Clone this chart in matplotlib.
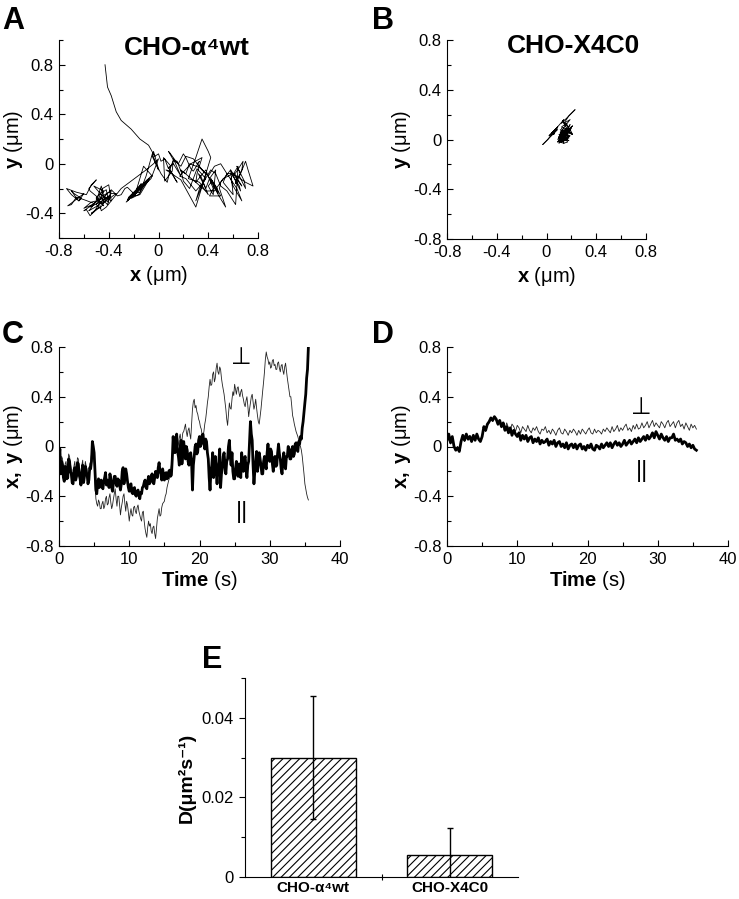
import numpy as np
import matplotlib
matplotlib.use("Agg")
import matplotlib.pyplot as plt
from matplotlib.ticker import MultipleLocator, FuncFormatter

plt.rcParams['font.family'] = ['Liberation Sans', 'DejaVu Sans']
plt.rcParams['axes.unicode_minus'] = False
plt.rcParams['mathtext.fontset'] = 'custom'
plt.rcParams['mathtext.rm'] = 'Liberation Sans'
plt.rcParams['mathtext.bf'] = 'Liberation Sans:bold'
plt.rcParams['mathtext.it'] = 'Liberation Sans:italic'
plt.rcParams['hatch.linewidth'] = 0.8

# sampling intervals of the traces (s)
dt_wt = 0.125
dt_x4 = 0.25

# CHO-a4wt traces (um); parallel = thick, perpendicular = thin
wt_par = [
    -0.10, -0.02, -0.22, -0.12, -0.15, -0.25, -0.28, -0.16,
    -0.18, -0.26, -0.25, -0.10, -0.12, -0.20, -0.22, -0.29,
    -0.30, -0.19, -0.17, -0.27, -0.24, -0.13, -0.14, -0.23,
    -0.26, -0.31, -0.20, -0.15, -0.29, -0.24, -0.16, -0.21,
    -0.22, -0.30, -0.27, -0.17, -0.18, -0.12, 0.04, 0.00,
    -0.05, -0.20, -0.35, -0.38, -0.30, -0.26, -0.33, -0.29,
    -0.27, -0.32, -0.34, -0.28, -0.25, -0.21, -0.31, -0.27,
    -0.28, -0.33, -0.22, -0.26, -0.33, -0.36, -0.29, -0.24,
    -0.24, -0.30, -0.32, -0.26, -0.27, -0.31, -0.35, -0.30,
    -0.20, -0.17, -0.30, -0.25, -0.18, -0.22, -0.28, -0.33,
    -0.36, -0.31, -0.30, -0.37, -0.38, -0.34, -0.33, -0.39,
    -0.40, -0.36, -0.35, -0.39, -0.42, -0.37, -0.38, -0.33,
    -0.32, -0.29, -0.27, -0.33, -0.34, -0.28, -0.24, -0.30,
    -0.28, -0.24, -0.22, -0.29, -0.30, -0.25, -0.20, -0.23,
    -0.25, -0.17, -0.13, -0.20, -0.22, -0.27, -0.18, -0.22,
    -0.27, -0.23, -0.21, -0.26, -0.25, -0.20, -0.19, -0.24,
    -0.23, -0.10, 0.08, -0.02, -0.05, 0.06, 0.10, -0.04,
    -0.08, -0.15, -0.02, 0.05, -0.14, -0.06, 0.04, -0.03,
    -0.10, 0.00, -0.03, -0.12, -0.15, -0.06, -0.05, -0.13,
    -0.35, -0.15, -0.08, 0.00, 0.02, -0.06, -0.04, 0.05,
    0.08, 0.00, 0.02, 0.09, 0.10, 0.03, -0.02, 0.06,
    0.04, -0.05, -0.10, -0.25, -0.35, -0.20, -0.15, -0.05,
    -0.25, -0.15, -0.08, -0.20, -0.30, -0.18, -0.12, -0.02,
    -0.33, -0.22, -0.18, -0.08, -0.05, -0.15, -0.22, -0.12,
    -0.10, 0.00, 0.05, -0.08, -0.15, -0.05, -0.20, -0.26,
    -0.26, -0.18, -0.12, -0.20, -0.24, -0.14, -0.18, -0.25,
    -0.05, -0.12, -0.20, -0.10, -0.08, -0.18, -0.25, -0.15,
    -0.12, 0.05, 0.20, 0.10, 0.05, -0.15, -0.30, -0.20,
    -0.12, -0.04, -0.20, -0.14, -0.05, -0.10, -0.15, -0.22,
    -0.22, -0.12, -0.08, -0.15, -0.18, -0.05, 0.02, -0.08,
    -0.12, -0.02, -0.04, -0.14, -0.20, -0.10, -0.08, -0.16,
    -0.15, -0.05, 0.02, -0.06, -0.10, -0.18, -0.22, -0.12,
    -0.05, -0.14, -0.18, -0.08, -0.08, 0.00, -0.02, -0.10,
    -0.10, -0.03, 0.00, -0.08, -0.06, 0.02, 0.03, -0.02,
    -0.04, 0.04, 0.02, 0.08, 0.06, 0.15, 0.20, 0.28,
    0.35, 0.42, 0.55, 0.62, 0.80]
wt_perp = [
    -0.05, -0.12, -0.18, -0.08, -0.10, -0.16, -0.22, -0.14,
    -0.12, -0.20, -0.15, -0.06, -0.08, -0.14, -0.18, -0.24,
    -0.25, -0.16, -0.12, -0.21, -0.20, -0.09, -0.10, -0.18,
    -0.22, -0.26, -0.15, -0.11, -0.25, -0.19, -0.12, -0.16,
    -0.18, -0.25, -0.24, -0.14, -0.12, -0.06, 0.00, -0.04,
    -0.10, -0.30, -0.42, -0.46, -0.48, -0.43, -0.45, -0.50,
    -0.50, -0.46, -0.44, -0.50, -0.48, -0.42, -0.40, -0.47,
    -0.46, -0.41, -0.38, -0.45, -0.50, -0.47, -0.42, -0.38,
    -0.34, -0.42, -0.48, -0.40, -0.40, -0.47, -0.55, -0.49,
    -0.45, -0.40, -0.38, -0.46, -0.52, -0.44, -0.47, -0.53,
    -0.60, -0.54, -0.50, -0.55, -0.56, -0.49, -0.48, -0.52,
    -0.54, -0.49, -0.47, -0.52, -0.55, -0.58, -0.60, -0.53,
    -0.52, -0.60, -0.66, -0.70, -0.73, -0.65, -0.60, -0.64,
    -0.62, -0.68, -0.70, -0.65, -0.64, -0.70, -0.74, -0.66,
    -0.58, -0.54, -0.50, -0.56, -0.55, -0.49, -0.46, -0.45,
    -0.44, -0.40, -0.38, -0.33, -0.30, -0.27, -0.25, -0.20,
    -0.15, -0.10, -0.05, -0.01, 0.00, -0.05, -0.04, 0.00,
    0.02, 0.07, 0.10, 0.04, 0.05, 0.11, 0.12, 0.15,
    0.18, 0.12, 0.08, 0.13, 0.15, 0.10, 0.06, 0.18,
    0.30, 0.36, 0.38, 0.31, 0.33, 0.28, 0.26, 0.22,
    0.20, 0.16, 0.14, 0.09, 0.08, 0.12, 0.18, 0.22,
    0.28, 0.35, 0.40, 0.48, 0.54, 0.49, 0.50, 0.58,
    0.60, 0.52, 0.55, 0.63, 0.67, 0.60, 0.58, 0.64,
    0.62, 0.55, 0.50, 0.46, 0.42, 0.36, 0.30, 0.22,
    0.17, 0.26, 0.35, 0.31, 0.30, 0.38, 0.44, 0.41,
    0.50, 0.46, 0.42, 0.47, 0.48, 0.43, 0.40, 0.44,
    0.46, 0.41, 0.38, 0.34, 0.32, 0.37, 0.40, 0.33,
    0.24, 0.30, 0.35, 0.40, 0.42, 0.36, 0.30, 0.33,
    0.38, 0.31, 0.25, 0.20, 0.18, 0.24, 0.30, 0.38,
    0.45, 0.52, 0.60, 0.70, 0.76, 0.72, 0.70, 0.66,
    0.68, 0.63, 0.64, 0.69, 0.70, 0.65, 0.66, 0.62,
    0.62, 0.67, 0.68, 0.63, 0.60, 0.65, 0.66, 0.61,
    0.58, 0.64, 0.67, 0.61, 0.55, 0.50, 0.45, 0.40,
    0.40, 0.33, 0.25, 0.22, 0.18, 0.15, 0.12, 0.10,
    0.08, 0.05, 0.02, 0.00, -0.03, -0.08, -0.15, -0.22,
    -0.30, -0.34, -0.38, -0.41, -0.43]

# CHO-X4C0 traces (um)
x4_par = [
    0.05, 0.10, 0.03, 0.08, 0.00, -0.03, -0.01, -0.04, 0.04, 0.09, 0.05, 0.10,
    0.06, 0.08, 0.04, 0.09, 0.05, 0.10, 0.06, 0.04, 0.08, 0.16, 0.13, 0.18,
    0.20, 0.23, 0.21, 0.24, 0.22, 0.18, 0.21, 0.16, 0.19, 0.13, 0.16, 0.11,
    0.15, 0.09, 0.13, 0.10, 0.08, 0.11, 0.05, 0.09, 0.06, 0.09, 0.04, 0.07,
    0.08, 0.03, 0.06, 0.04, 0.07, 0.02, 0.05, 0.03, 0.04, 0.06, 0.01, 0.04,
    0.02, 0.05, 0.00, 0.03, 0.04, 0.00, 0.02, -0.01, 0.03, -0.02, 0.01, 0.02,
    -0.01, 0.02, -0.02, 0.01, 0.02, -0.02, 0.00, -0.03, 0.01, -0.01, 0.02, -0.02,
    -0.03, 0.01, 0.00, -0.02, 0.02, -0.01, 0.01, 0.03, 0.00, 0.03, -0.01, 0.02,
    0.04, 0.01, 0.03, 0.00, 0.02, 0.05, 0.01, 0.03, 0.05, 0.02, 0.04, 0.06,
    0.03, 0.07, 0.04, 0.06, 0.08, 0.05, 0.09, 0.06, 0.08, 0.11, 0.07, 0.12,
    0.09, 0.06, 0.10, 0.07, 0.05, 0.08, 0.04, 0.07, 0.07, 0.10, 0.05, 0.06,
    0.04, 0.06, 0.02, 0.04, 0.03, 0.00, 0.02, -0.01, 0.01, -0.02, -0.03]
x4_perp = [
    0.05, 0.09, 0.02, 0.07, 0.01, -0.02, 0.00, -0.03, 0.05, 0.08, 0.04, 0.09,
    0.05, 0.09, 0.05, 0.08, 0.06, 0.09, 0.05, 0.06, 0.07, 0.14, 0.12, 0.17,
    0.19, 0.22, 0.20, 0.23, 0.21, 0.17, 0.20, 0.15, 0.18, 0.14, 0.19, 0.15,
    0.13, 0.18, 0.16, 0.12, 0.17, 0.15, 0.11, 0.16, 0.14, 0.12, 0.17, 0.13,
    0.11, 0.15, 0.13, 0.16, 0.12, 0.10, 0.14, 0.13, 0.16, 0.11, 0.13, 0.10,
    0.14, 0.12, 0.09, 0.13, 0.15, 0.11, 0.10, 0.14, 0.12, 0.09, 0.13, 0.11,
    0.14, 0.12, 0.09, 0.13, 0.10, 0.14, 0.12, 0.10, 0.13, 0.15, 0.11, 0.10,
    0.14, 0.11, 0.13, 0.12, 0.10, 0.14, 0.12, 0.15, 0.13, 0.11, 0.16, 0.12,
    0.14, 0.17, 0.12, 0.15, 0.13, 0.16, 0.18, 0.13, 0.15, 0.12, 0.17, 0.14,
    0.18, 0.14, 0.15, 0.19, 0.15, 0.17, 0.20, 0.15, 0.18, 0.21, 0.16, 0.19,
    0.17, 0.15, 0.20, 0.18, 0.15, 0.19, 0.21, 0.16, 0.18, 0.20, 0.15, 0.19,
    0.21, 0.16, 0.18, 0.14, 0.19, 0.16, 0.13, 0.18, 0.15, 0.17, 0.14]

# panel E: diffusion coefficients
cell_lines = ['CHO-α⁴wt', 'CHO-X4C0']
D_mean = [0.0300, 0.0055]
D_err = [0.0155, 0.0067]


def fmt(v, pos):
    if abs(v) < 1e-9:
        return '0'
    return f'{v:g}'


def style_axes(ax, direction='in'):
    ax.spines['top'].set_visible(False)
    ax.spines['right'].set_visible(False)
    ax.tick_params(which='both', direction=direction, labelsize=12, width=0.8, pad=4)
    ax.tick_params(which='major', length=4)
    ax.tick_params(which='minor', length=3)


fig = plt.figure(figsize=(7.39, 8.99), dpi=100)
W, H = 739.0, 899.0


def px_axes(left, top, right, bottom):
    return fig.add_axes([left / W, 1 - bottom / H, (right - left) / W, (bottom - top) / H])


# A
axA = px_axes(59, 40, 258, 238)
axA.plot(wt_perp, wt_par, color='black', lw=0.6)
axA.set_xlim(-0.8, 0.8)
axA.set_ylim(-0.6, 1.0)
axA.xaxis.set_major_locator(MultipleLocator(0.4))
axA.xaxis.set_minor_locator(MultipleLocator(0.2))
axA.set_yticks([-0.4, 0, 0.4, 0.8])
axA.yaxis.set_minor_locator(MultipleLocator(0.2))
style_axes(axA)
axA.xaxis.set_major_formatter(FuncFormatter(fmt))
axA.yaxis.set_major_formatter(FuncFormatter(fmt))
axA.set_xlabel(r'$\mathbf{x}$ (μm)', fontsize=14.5, labelpad=4)
axA.set_ylabel(r'$\mathbf{y}$ (μm)', fontsize=14.5, labelpad=0)

# B
axB = px_axes(447, 40, 646, 239)
axB.plot(x4_perp, x4_par, color='black', lw=0.6)
axB.set_xlim(-0.8, 0.8)
axB.set_ylim(-0.8, 0.8)
for a in (axB.xaxis, axB.yaxis):
    a.set_major_locator(MultipleLocator(0.4))
    a.set_minor_locator(MultipleLocator(0.2))
style_axes(axB)
axB.xaxis.set_major_formatter(FuncFormatter(fmt))
axB.yaxis.set_major_formatter(FuncFormatter(fmt))
axB.set_xlabel(r'$\mathbf{x}$ (μm)', fontsize=14.5, labelpad=4)
axB.set_ylabel(r'$\mathbf{y}$ (μm)', fontsize=14.5, labelpad=0)

# C and D
for (l, r), par, perp, dt, sym in [((59, 340), wt_par, wt_perp, dt_wt, ((26.0, 0.72), (26.0, -0.53))),
                                   ((447, 728), x4_par, x4_perp, dt_x4, ((27.7, 0.32), (27.8, -0.20)))]:
    ax = px_axes(l, 347, r, 546)
    t_perp = np.arange(len(perp)) * dt
    t_par = np.arange(len(par)) * dt
    ax.plot(t_perp, perp, color='#222222', lw=0.6)
    ax.plot(t_par, par, color='black', lw=2.0)
    ax.set_xlim(0, 40)
    ax.set_ylim(-0.8, 0.8)
    ax.xaxis.set_major_locator(MultipleLocator(10))
    ax.xaxis.set_minor_locator(MultipleLocator(5))
    ax.yaxis.set_major_locator(MultipleLocator(0.4))
    ax.yaxis.set_minor_locator(MultipleLocator(0.2))
    style_axes(ax)
    ax.xaxis.set_major_formatter(FuncFormatter(fmt))
    ax.yaxis.set_major_formatter(FuncFormatter(fmt))
    ax.set_xlabel(r'$\mathbf{Time}$ (s)', fontsize=14.5, labelpad=2)
    ax.set_ylabel(r'$\mathbf{x,}$ $\mathbf{y}$ (μm)', fontsize=14.5, labelpad=0)
    ax.text(sym[0][0], sym[0][1], '⊥', fontsize=17, ha='center', va='center',
            family=['DejaVu Sans'])
    ax.text(sym[1][0], sym[1][1], '||', fontsize=17, ha='center', va='center')

# E
axE = px_axes(245, 678, 518, 877)
pos = [0.5, 1.5]
axE.bar(pos, D_mean, width=0.62, color='white', edgecolor='black', linewidth=1.0,
        hatch='////', zorder=2)
axE.errorbar(pos, D_mean, yerr=D_err, fmt='none', ecolor='black', elinewidth=1.0,
             capsize=2, zorder=3)
axE.set_xlim(0, 2)
axE.set_ylim(0, 0.05)
axE.set_yticks([0, 0.02, 0.04])
axE.yaxis.set_minor_locator(MultipleLocator(0.01))
style_axes(axE, direction='out')
axE.yaxis.set_major_formatter(FuncFormatter(fmt))
axE.set_xticks(pos)
axE.set_xticklabels(cell_lines, fontsize=11, fontweight='bold')
axE.tick_params(axis='x', which='major', length=0, pad=3)
axE.set_xticks([1.0], minor=True)
axE.tick_params(axis='x', which='minor', length=4, direction='inout')
axE.set_ylabel('D(μm²s⁻¹)', fontsize=14, fontweight='bold', labelpad=4)

# titles and panel letters
fig.text(187 / W, 1 - 48 / H, 'CHO-α⁴wt', fontsize=19, fontweight='bold', ha='center', va='center')
fig.text(573 / W, 1 - 46 / H, 'CHO-X4C0', fontsize=19, fontweight='bold', ha='center', va='center')
for letter, x, y in [('A', 2, 6), ('B', 372, 6), ('C', 2, 320), ('D', 372, 320), ('E', 202, 645)]:
    fig.text(x / W, 1 - y / H, letter, fontsize=22, fontweight='bold', ha='left', va='top')

fig.savefig('out.png', dpi=100)
